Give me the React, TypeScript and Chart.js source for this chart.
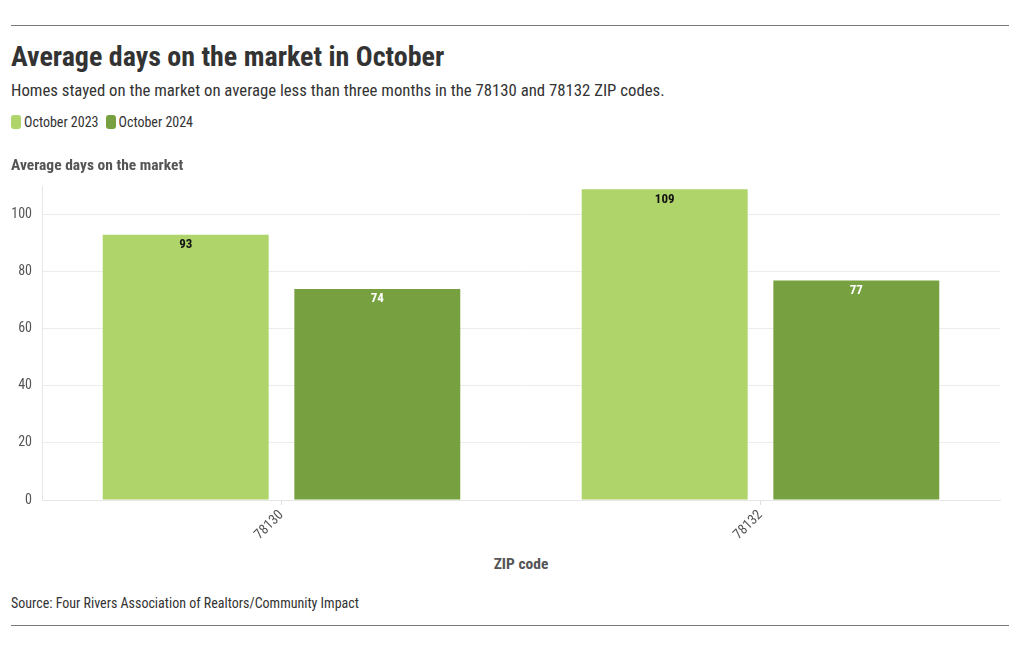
import React, { useEffect, useRef } from "react";
import { Chart, registerables } from "chart.js";

Chart.register(...registerables);

const categories = ["78130", "78132"];
const seriesNames = ["October 2023", "October 2024"];
const oct2023 = [93, 109];
const oct2024 = [74, 77];
const yTicks = [0, 20, 40, 60, 80, 100];

const LIGHT = "#aed46a";
const DARK = "#77a141";
const FONT = "'Roboto Condensed', 'Liberation Sans Narrow', 'DejaVu Sans Condensed', Roboto, sans-serif";

const labelPlugin = {
  id: "barLabels",
  afterDatasetsDraw(chart: any) {
    const ctx = chart.ctx;
    ctx.save();
    ctx.font = `bold 13px ${FONT}`;
    ctx.textAlign = "center";
    ctx.textBaseline = "middle";
    chart.data.datasets.forEach((ds: any, di: number) => {
      const meta = chart.getDatasetMeta(di);
      meta.data.forEach((bar: any, i: number) => {
        ctx.fillStyle = di === 0 ? "#111111" : "#ffffff";
        ctx.fillText(String(ds.data[i]), bar.x, bar.y + 10);
      });
    });
    ctx.restore();
  },
};

function BarChart() {
  const ref = useRef<HTMLCanvasElement | null>(null);
  useEffect(() => {
    if (!ref.current) return;
    const chart = new Chart(ref.current, {
      type: "bar",
      data: {
        labels: categories,
        datasets: [
          { label: seriesNames[0], data: oct2023, backgroundColor: LIGHT, categoryPercentage: 0.8, barPercentage: 0.866 },
          { label: seriesNames[1], data: oct2024, backgroundColor: DARK, categoryPercentage: 0.8, barPercentage: 0.866 },
        ],
      },
      options: {
        animation: false,
        responsive: false,
        maintainAspectRatio: false,
        layout: { padding: { top: 4, right: 20, left: 0, bottom: 0 } },
        plugins: { legend: { display: false }, tooltip: { enabled: false } },
        scales: {
          x: {
            grid: { display: true, drawOnChartArea: false, offset: false, tickLength: 5, color: "#dddddd" },
            border: { color: "#e6e6e6" },
            ticks: { font: { family: FONT, size: 14 }, color: "#555555", maxRotation: 45, minRotation: 45, padding: 2 },
            afterFit(scale: any) { scale.height = 46; },
          },
          y: {
            min: 0,
            max: 110,
            grid: { color: "#ececec", drawTicks: false },
            border: { color: "#e6e6e6" },
            afterBuildTicks(scale: any) { scale.ticks = yTicks.map((v) => ({ value: v })); },
            ticks: { font: { family: FONT, size: 14 }, color: "#555555", padding: 10 },
            afterFit(scale: any) { scale.width = 42; },
          },
        },
      },
      plugins: [labelPlugin],
    });
    return () => chart.destroy();
  }, []);
  return <canvas ref={ref} width={1020} height={378} style={{ position: "absolute", left: 0, top: 168, width: 1020, height: 378 }} />;
}

export default function App() {
  const txt: React.CSSProperties = { position: "absolute", fontFamily: FONT, whiteSpace: "nowrap", margin: 0 };
  return (
    <div style={{ position: "absolute", left: 0, top: 0, width: 1020, height: 650, background: "#fff", overflow: "hidden" }}>
      <BarChart />
      <div style={{ position: "absolute", left: 11, top: 25, width: 998, height: 1, background: "#7a7a7a" }} />
      <div style={{ ...txt, left: 11, top: 40, fontSize: 28, fontWeight: 700, color: "#333333", lineHeight: "34px" }}>
        Average days on the market in October
      </div>
      <div style={{ ...txt, left: 11, top: 80, fontSize: 16.75, color: "#333333", lineHeight: "20px" }}>
        Homes stayed on the market on average less than three months in the 78130 and 78132 ZIP codes.
      </div>
      <div style={{ ...txt, left: 11, top: 113, fontSize: 14, color: "#333333", lineHeight: "18px", display: "flex", alignItems: "center" }}>
        <span style={{ display: "inline-block", width: 10, height: 14, borderRadius: 3, background: LIGHT, marginRight: 3 }} />
        <span style={{ marginRight: 7 }}>{seriesNames[0]}</span>
        <span style={{ display: "inline-block", width: 10, height: 14, borderRadius: 3, background: DARK, marginRight: 3 }} />
        <span>{seriesNames[1]}</span>
      </div>
      <div style={{ ...txt, left: 11, top: 155, fontSize: 15.5, fontWeight: 700, color: "#555555", lineHeight: "20px" }}>
        Average days on the market
      </div>
      <div style={{ ...txt, left: 0, width: 1042, textAlign: "center", top: 554, fontSize: 15.5, fontWeight: 700, color: "#555555", lineHeight: "20px" }}>
        ZIP code
      </div>
      <div style={{ ...txt, left: 11, top: 594, fontSize: 14, color: "#333333", lineHeight: "18px" }}>
        Source: Four Rivers Association of Realtors/Community Impact
      </div>
      <div style={{ position: "absolute", left: 11, top: 625, width: 998, height: 1, background: "#7a7a7a" }} />
    </div>
  );
}
